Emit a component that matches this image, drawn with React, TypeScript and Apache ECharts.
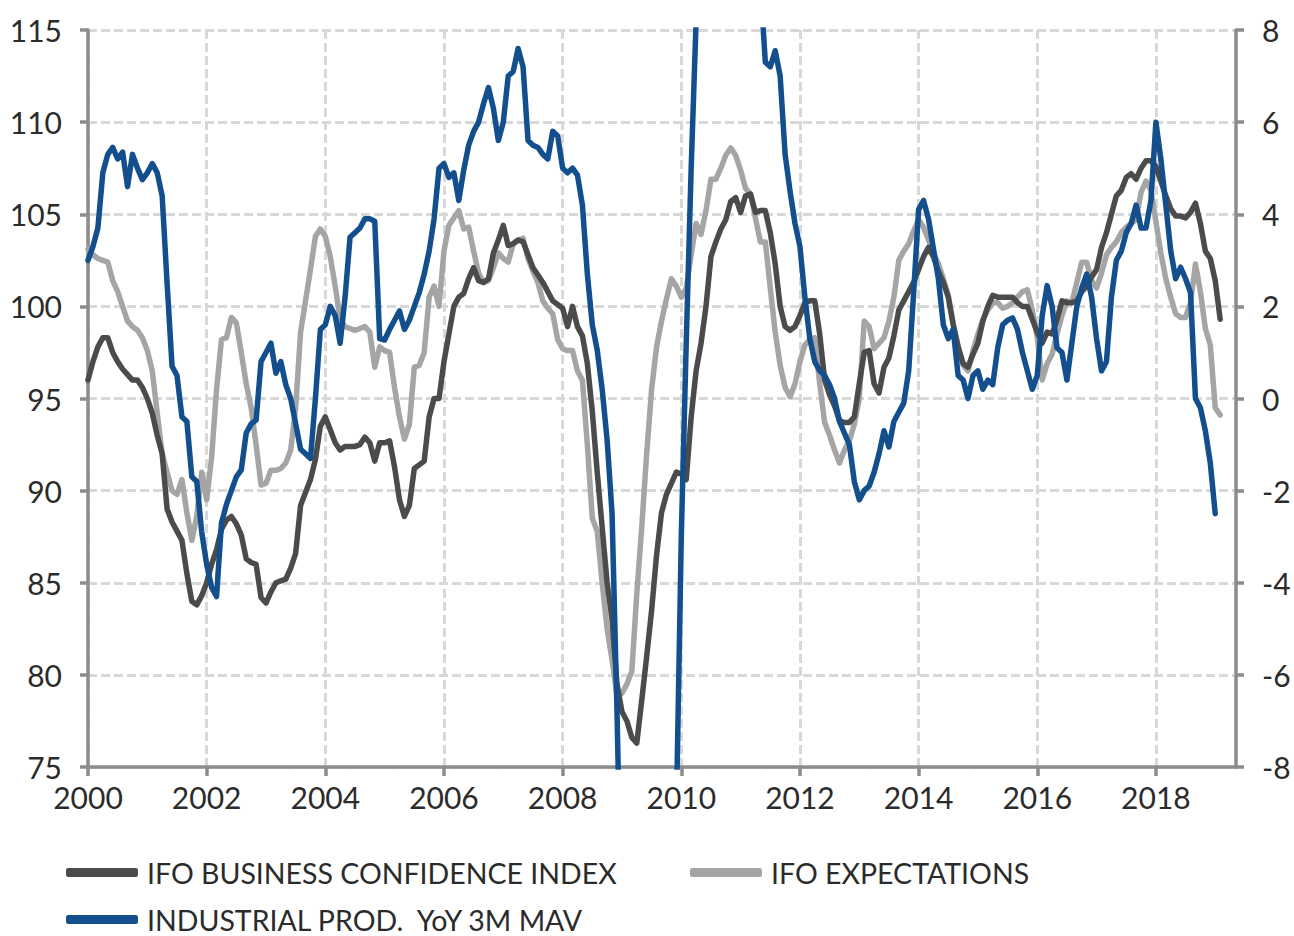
import React, { useEffect, useRef } from "react";
import * as echarts from "echarts";

// Monthly observations, January 2000 onwards
const startYear = 2000;

const ifoBusiness: number[] = [
  96.0, 97.0, 97.8, 98.3, 98.3, 97.5, 97.0, 96.6, 96.3, 96.0, 96.0, 95.6,
  95.0, 94.2, 93.0, 92.0, 89.0, 88.3, 87.8, 87.3, 85.5, 84.0, 83.8, 84.3,
  85.0, 86.0, 86.8, 87.9, 88.4, 88.6, 88.2, 87.6, 86.3, 86.1, 86.0, 84.2,
  83.9, 84.5, 85.0, 85.1, 85.2, 85.8, 86.6, 89.2, 89.9, 90.6, 91.7, 93.5,
  94.0, 93.3, 92.6, 92.2, 92.4, 92.4, 92.4, 92.5, 92.9, 92.6, 91.6, 92.6,
  92.6, 92.7, 91.3, 89.5, 88.6, 89.2, 91.2, 91.4, 91.6, 94.0, 95.0, 95.0,
  97.0, 98.5, 100.0, 100.5, 100.7, 101.5, 102.1, 101.4, 101.3, 101.5, 102.9, 103.6,
  104.4, 103.3, 103.4, 103.6, 103.5, 102.8, 102.1, 101.7, 101.3, 100.8, 100.3, 100.1,
  99.9, 98.9, 100.0, 98.9, 98.4, 96.9, 94.3, 91.0, 88.0, 85.0, 83.0, 79.5,
  78.0, 77.5, 76.6, 76.3, 78.6, 81.0, 83.5, 86.5, 88.8, 89.8, 90.4, 91.0,
  90.9, 90.6, 94.0, 96.5, 98.0, 100.0, 102.7, 103.5, 104.2, 104.7, 105.7, 105.9,
  105.1, 106.0, 106.1, 105.1, 105.2, 105.2, 104.0, 102.3, 100.0, 98.9, 98.7, 98.9,
  99.5, 100.2, 100.3, 100.3, 98.5, 96.0, 95.2, 94.6, 93.8, 93.7, 93.7, 94.0,
  95.8, 97.5, 97.6, 95.8, 95.3, 96.7, 97.2, 98.4, 99.8, 100.3, 100.8, 101.3,
  102.0, 102.7, 103.2, 102.7, 101.9, 101.3, 100.5, 99.0, 97.8, 96.9, 96.7, 97.4,
  98.0, 99.2, 100.0, 100.6, 100.5, 100.5, 100.5, 100.5, 100.2, 100.0, 100.0, 99.3,
  98.6, 98.0, 98.6, 98.5, 99.3, 100.3, 100.2, 100.2, 100.3, 100.8, 101.1, 101.6,
  102.0, 103.2, 104.0, 105.0, 106.0, 106.3, 107.0, 107.2, 106.9, 107.5, 107.9, 107.9,
  107.6, 106.8, 106.0, 105.3, 104.9, 104.9, 104.8, 105.1, 105.6, 104.5, 103.0, 102.6,
  101.4, 99.3,
];

const ifoExpectations: number[] = [
  103.1, 102.8, 102.6, 102.5, 102.4, 101.4, 100.8, 100.0, 99.2, 98.9, 98.7, 98.3,
  97.6, 96.5, 94.2, 92.0, 91.0, 90.0, 89.8, 90.6, 88.8, 87.3, 88.6, 91.0,
  89.5, 91.8, 95.5, 98.2, 98.3, 99.4, 99.1, 97.5, 95.8, 94.5, 92.5, 90.3,
  90.4, 91.1, 91.1, 91.2, 91.5, 92.2, 94.5, 98.6, 100.3, 102.0, 103.8, 104.2,
  103.8, 102.7, 101.1, 99.3, 98.9, 98.8, 98.7, 98.8, 98.9, 98.6, 96.7, 97.8,
  97.6, 97.5, 95.6, 94.0, 92.8, 93.6, 96.7, 96.8, 97.5, 100.5, 101.1, 100.0,
  103.0, 104.4, 104.8, 105.2, 104.2, 104.3, 103.0, 101.8, 101.3, 101.4, 102.1, 102.9,
  102.6, 102.4, 103.4, 103.6, 103.7, 102.6, 101.9, 101.3, 100.3, 99.9, 99.6, 98.2,
  97.7, 97.6, 97.6, 96.5, 96.0, 92.5, 88.5, 87.8, 85.0, 82.5, 80.8, 78.9,
  79.0, 79.5, 80.2, 84.4, 88.0, 92.0, 95.5, 97.8, 99.2, 100.4, 101.5, 101.1,
  100.5, 101.0, 102.8, 104.5, 103.9, 105.2, 106.9, 106.9, 107.5, 108.2, 108.6, 108.2,
  107.4, 106.4, 106.1, 104.8, 103.5, 103.5, 101.0, 98.6, 96.8, 95.6, 95.1, 95.8,
  97.0, 97.9, 98.2, 98.3, 95.8, 93.7, 93.0, 92.2, 91.5, 92.2, 92.7, 93.6,
  95.0, 99.2, 98.9, 97.7, 98.0, 98.3, 99.2, 100.5, 102.5, 103.0, 103.4, 104.1,
  104.7, 104.3, 103.6, 102.9, 102.3, 101.5, 100.6, 99.1, 97.8, 96.8, 96.5, 97.6,
  98.5, 99.3, 99.8, 100.2, 100.2, 99.9, 100.0, 100.2, 100.5, 100.8, 100.9, 99.8,
  98.3, 96.0, 96.9, 97.4, 98.5, 99.5, 100.3, 100.2, 101.3, 102.4, 102.4, 101.4,
  101.0, 101.8, 102.8, 103.2, 103.5, 104.0, 104.3, 104.5, 104.7, 106.2, 106.8, 106.3,
  104.6, 102.9, 101.5, 100.5, 99.6, 99.4, 99.4, 100.2, 102.3, 100.8, 98.8, 97.9,
  94.5, 94.1,
];

const industrialProd: number[] = [
  3.0, 3.3, 3.7, 4.9, 5.3, 5.45, 5.2, 5.35, 4.6, 5.3, 5.0, 4.75,
  4.9, 5.1, 4.9, 4.4, 2.5, 0.7, 0.5, -0.4, -0.5, -1.7, -1.8, -2.9,
  -3.6, -4.1, -4.3, -2.7, -2.3, -2.0, -1.7, -1.55, -0.75, -0.55, -0.47, 0.8,
  1.0, 1.2, 0.55, 0.8, 0.3, 0.0, -0.55, -1.1, -1.2, -1.3, 0.0, 1.5,
  1.6, 2.0, 1.8, 1.2, 2.2, 3.5, 3.6, 3.7, 3.9, 3.9, 3.85, 1.3,
  1.27, 1.5, 1.7, 1.9, 1.5, 1.7, 2.0, 2.3, 2.7, 3.2, 3.9, 5.0,
  5.1, 4.8, 4.9, 4.3, 4.96, 5.5, 5.8, 6.0, 6.4, 6.75, 6.3, 5.6,
  6.0, 7.0, 7.1, 7.6, 7.2, 5.6, 5.5, 5.45, 5.3, 5.2, 5.8, 5.7,
  5.0, 4.9, 5.0, 4.85, 4.2, 2.7, 1.6, 1.05, 0.2, -0.9, -2.5, -6.8,
  -12, -16, -19, -20.5, -20, -18.5, -17, -16, -14, -12.5, -11.5, -9.0,
  -3.0, 1.2, 5.0, 8.2, 11, 13, 14, 13.5, 12.5, 11.5, 11, 10.5,
  11, 12, 10.5, 9.5, 9.0, 7.3, 7.2, 7.55, 7.0, 5.3, 4.5, 3.8,
  3.3, 2.2, 1.3, 0.8, 0.6, 0.5, 0.3, 0.0, -0.5, -0.75, -1.0, -1.8,
  -2.2, -2.0, -1.9, -1.6, -1.2, -0.7, -1.05, -0.5, -0.3, -0.1, 0.6, 2.3,
  4.1, 4.3, 3.9, 3.25, 2.6, 1.6, 1.3, 1.5, 0.5, 0.4, 0.0, 0.5,
  0.6, 0.2, 0.4, 0.3, 1.1, 1.6, 1.7, 1.75, 1.5, 1.0, 0.6, 0.2,
  0.5, 1.8, 2.45, 2.0, 1.1, 1.0, 0.4, 1.2, 2.0, 2.4, 2.7, 2.2,
  1.3, 0.6, 0.8, 2.2, 3.0, 3.2, 3.6, 3.8, 4.2, 3.7, 3.7, 4.3,
  6.0, 5.2, 4.2, 3.2, 2.6, 2.85, 2.6, 2.3, 0.0, -0.2, -0.7, -1.4,
  -2.5,
];

const xTickYears = [2000, 2002, 2004, 2006, 2008, 2010, 2012, 2014, 2016, 2018];
const leftTicks = { min: 75, max: 115, interval: 5 };
const rightTicks = { min: -8, max: 8, interval: 2 };

const seriesNames = {
  business: "IFO BUSINESS CONFIDENCE INDEX",
  expectations: "IFO EXPECTATIONS",
  production: "INDUSTRIAL PROD.  YoY 3M MAV",
};

const toPairs = (values: number[]) =>
  values.map((v, i) => [startYear + i / 12, v]);

const FONT = "Lato";
const AXIS_COLOR = "#8c8c8c";
const GRID_COLOR = "#d8d8d8";
const TEXT_COLOR = "#2b2b2b";

export default function App() {
  const ref = useRef<HTMLDivElement>(null);

  useEffect(() => {
    if (!ref.current) return;
    const chart = echarts.init(ref.current, null, { renderer: "svg" });

    const axisLine = { show: true, onZero: false, lineStyle: { color: AXIS_COLOR, width: 3.5 } };
    const axisTick = { show: true, length: 8, lineStyle: { color: AXIS_COLOR, width: 3.5 } };
    const dashed = { show: true, lineStyle: { color: GRID_COLOR, width: 3, type: [9, 4] } };

    const legendBase = {
      orient: "horizontal",
      icon: "roundRect",
      itemWidth: 72,
      itemHeight: 9,
      itemGap: 0,
      padding: 0,
      selectedMode: false,
      textStyle: { fontSize: 28.5, color: TEXT_COLOR, fontFamily: FONT, padding: [0, 0, 0, 4] },
    };

    const lineCommon = {
      type: "line",
      showSymbol: false,
      symbol: "none",
      clip: true,
    };

    chart.setOption({
      animation: false,
      textStyle: { fontFamily: FONT },
      grid: { left: 88, right: 58, top: 30, bottom: 169, containLabel: false, outerBoundsMode: "none" },
      xAxis: [
        {
          type: "value",
          min: 2000,
          max: 2019.35,
          interval: 1,
          axisLine,
          axisTick: { ...axisTick, length: 9, customValues: xTickYears },
          axisLabel: {
            customValues: xTickYears,
            fontSize: 30,
            color: TEXT_COLOR,
            fontFamily: FONT,
            margin: 15,
            formatter: (v: number) => String(v),
          },
          splitLine: dashed,
        },
      ],
      yAxis: [
        {
          type: "value",
          position: "left",
          ...leftTicks,
          axisLine,
          axisTick,
          axisLabel: { fontSize: 30, color: TEXT_COLOR, fontFamily: FONT, margin: 26 },
          splitLine: dashed,
        },
        {
          type: "value",
          position: "right",
          ...rightTicks,
          axisLine,
          axisTick,
          axisLabel: { fontSize: 30, color: TEXT_COLOR, fontFamily: FONT, margin: 26 },
          splitLine: { show: false },
        },
      ],
      legend: [
        { ...legendBase, data: [seriesNames.business], left: 66, top: 858 },
        { ...legendBase, data: [seriesNames.expectations], left: 690, top: 858 },
        { ...legendBase, data: [seriesNames.production], left: 66, top: 905 },
      ],
      series: [
        {
          ...lineCommon,
          name: seriesNames.expectations,
          yAxisIndex: 0,
          data: toPairs(ifoExpectations),
          color: "#a5a5a5",
          lineStyle: { width: 5.5, color: "#a5a5a5", join: "round", cap: "round" },
        },
        {
          ...lineCommon,
          name: seriesNames.business,
          yAxisIndex: 0,
          data: toPairs(ifoBusiness),
          color: "#4b4b4b",
          lineStyle: { width: 5.5, color: "#4b4b4b", join: "round", cap: "round" },
        },
        {
          ...lineCommon,
          name: seriesNames.production,
          yAxisIndex: 1,
          data: toPairs(industrialProd),
          color: "#134f8d",
          lineStyle: { width: 5.5, color: "#134f8d", join: "round", cap: "round" },
        },
      ],
    });

    return () => chart.dispose();
  }, []);

  return (
    <div
      ref={ref}
      style={{ position: "fixed", left: 0, top: 0, width: 1294, height: 936, background: "#fff" }}
    />
  );
}
